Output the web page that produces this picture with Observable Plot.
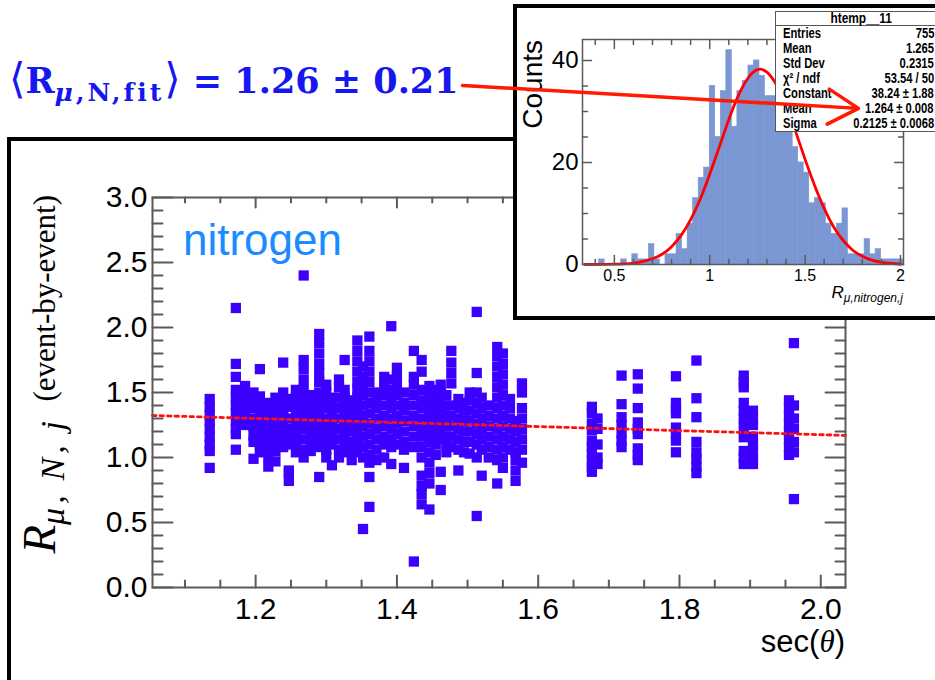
<!DOCTYPE html>
<html><head><meta charset="utf-8">
<script src="https://cdn.jsdelivr.net/npm/d3@7"></script>
<script src="https://cdn.jsdelivr.net/npm/@observablehq/plot@0.6"></script>
<style>
html,body{margin:0;padding:0;background:#fff;overflow:hidden;}
#page{position:relative;width:935px;height:680px;overflow:hidden;font-family:"Liberation Sans",Arial,sans-serif;background:#fff;}
.abs{position:absolute;white-space:nowrap;}
#stat{font-family:"Liberation Sans",Arial,sans-serif;font-weight:bold;font-size:14px;color:#000;}
#stat .row{position:relative;height:15px;line-height:15px;}
#stat .row .l{position:absolute;left:7px;transform:scaleX(0.8);transform-origin:0 50%;}
#stat .row .v{position:absolute;right:12px;transform:scaleX(0.8);transform-origin:100% 50%;}
#stat .head{height:13px;line-height:13px;text-align:center;border-bottom:1.5px solid #555;}
#stat .head span{display:inline-block;transform:scaleX(0.85);}
</style></head>
<body><div id="page"></div>
<script>
// ---------------- data: main scatter (sec(theta) columns and R values) ----------------
const colSec = [1.135,1.172,1.185,1.197,1.206,1.218,1.228,1.239,1.247,1.257,
  1.268,1.278,1.290,1.300,1.308,1.318,1.326,1.336,1.344,1.352,
  1.361,1.371,1.382,1.392,1.400,1.410,1.424,1.435,1.446,1.455,
  1.462,1.470,1.477,1.487,1.495,1.503,1.513,1.520,1.530,1.542,
  1.550,1.560,1.568,1.577,
  1.676,1.684,1.718,1.741,1.795,1.824,1.891,1.904,1.955,1.962];
const colRatio = [
  [1.45,1.39,1.33,1.28,1.22,1.16,1.10,1.05,0.92],
  [2.15,1.72,1.62,1.52,1.46,1.40,1.34,1.28,1.22,1.18,1.06],
  [1.55,1.49,1.43,1.37,1.31,1.25],
  [1.50,1.44,1.38,1.30,1.24,1.17,1.12,0.99],
  [1.68,1.47,1.41,1.35,1.29,1.22,1.15,1.10,1.04],
  [1.42,1.36,1.30,1.24,1.18,1.12,1.06,1.00,0.93],
  [1.46,1.40,1.34,1.28,1.22,1.16,1.10,1.05,0.97],
  [1.73,1.50,1.44,1.38,1.32,1.26,1.20,1.14,1.08],
  [1.45,1.39,1.30,1.22,1.16,1.10,0.90,0.82,0.88],
  [1.52,1.46,1.40,1.34,1.28,1.22,1.16,1.10,1.04],
  [2.40,1.75,1.68,1.60,1.53,1.46,1.40,1.34,1.28,1.22,1.14,1.06,1.00],
  [1.48,1.42,1.36,1.30,1.24,1.18,1.12,1.05],
  [1.95,1.88,1.80,1.72,1.65,1.58,1.50,1.44,1.38,1.32,1.26,1.20,1.14,1.08,0.85],
  [1.56,1.50,1.44,1.38,1.30,1.24,1.18,1.12,1.06,1.00],
  [1.46,1.40,1.34,1.28,1.22,1.16,1.10,0.94],
  [1.60,1.54,1.46,1.38,1.30,1.22,1.14,1.06,1.00],
  [1.75,1.52,1.46,1.40,1.34,1.28,1.22,1.16,1.10,1.04],
  [1.44,1.38,1.32,1.26,1.20,1.12,1.05,0.98],
  [1.90,1.82,1.74,1.66,1.58,1.52,1.46,1.40,1.34,1.28,1.22,1.16,1.10,1.04],
  [1.70,1.62,1.55,1.48,1.40,1.32,1.24,1.16,1.08,1.00,0.45],
  [1.93,1.82,1.74,1.66,1.58,1.50,1.42,1.34,1.26,1.18,1.10,1.02,0.96,0.85,0.62],
  [1.50,1.44,1.38,1.30,1.22,1.14,1.06,0.98],
  [1.62,1.55,1.48,1.40,1.32,1.24,1.16,1.10,1.00],
  [2.01,1.60,1.52,1.45,1.38,1.30,1.22,1.14,1.08,0.95],
  [1.69,1.62,1.55,1.48,1.40,1.32,1.26,1.18,1.10],
  [1.50,1.42,1.36,1.28,1.20,1.12,1.06,0.92],
  [1.82,1.62,1.56,1.48,1.40,1.32,1.24,1.16,1.08,0.20],
  [1.75,1.66,1.52,1.44,1.38,1.30,1.22,1.16,1.08,1.00,0.86,0.78,0.72,0.64],
  [1.55,1.48,1.42,1.36,1.30,1.24,1.18,1.12,1.04,0.96,0.88,0.80,0.60],
  [1.52,1.46,1.40,1.34,1.28,1.22,1.16,1.10,1.02],
  [1.56,1.50,1.42,1.34,1.26,1.20,1.14,0.89,0.75],
  [1.48,1.40,1.32,1.24,1.16,1.10,1.04],
  [1.82,1.73,1.65,1.57,1.40,1.32,1.24,1.16,1.08],
  [1.45,1.38,1.30,1.22,1.14,1.06,0.90],
  [1.42,1.36,1.28,1.20,1.12,1.04],
  [1.50,1.44,1.36,1.28,1.20,1.12,1.03],
  [2.12,1.65,1.50,1.42,1.34,1.26,1.18,1.10,1.00,0.55],
  [1.46,1.38,1.30,1.22,1.14,1.06,0.86],
  [1.40,1.32,1.24,1.16,1.08,1.00],
  [1.85,1.78,1.70,1.62,1.54,1.46,1.38,1.30,1.22,1.14,1.06,0.98,0.80],
  [1.80,1.72,1.64,1.56,1.48,1.40,1.32,1.24,1.16,1.08,1.00,0.92],
  [1.45,1.38,1.30,1.22,1.14,1.06],
  [1.28,1.20,1.12,1.04,0.98,0.90,0.82],
  [1.57,1.50,1.38,1.30,1.22,1.14,1.06,0.96],
  [1.39,1.34,1.26,1.21,1.13,1.08,1.03,0.98,0.93,0.89],
  [1.30,1.22,1.10,1.00,0.95],
  [1.63,1.41,1.31,1.25,1.19,1.13,1.08],
  [1.64,1.53,1.38,1.27,1.22,1.18,1.07,1.02,0.98],
  [1.625,1.42,1.38,1.34,1.23,1.18,1.13,1.04],
  [1.746,1.456,1.31,1.12,1.04,0.99,0.93,0.88],
  [1.63,1.58,1.54,1.42,1.36,1.30,1.23,1.156,1.05,1.00,0.95],
  [1.36,1.30,1.25,1.16,1.10,1.04,0.98,0.95],
  [1.44,1.38,1.32,1.26,1.20,1.14,1.08,1.02],
  [1.88,1.40,1.30,1.22,1.12,1.04,0.68]
];
// linear fit (dotted red line), end points
const fitSec = [1.054, 2.035];
const fitRatio = [1.323, 1.170];
// main axes
const mainXDomain = [1.054, 2.035];
const mainYDomain = [0, 3.0];
const mainXTicks = [1.2, 1.4, 1.6, 1.8, 2.0];
const mainXTickLabels = ["1.2", "1.4", "1.6", "1.8", "2.0"];
const mainYTicks = [0, 0.5, 1.0, 1.5, 2.0, 2.5, 3.0];
const mainYTickLabels = ["0.0", "0.5", "1.0", "1.5", "2.0", "2.5", "3.0"];

// ---------------- data: inset histogram ----------------
const histStart = 0.333;
const histBinWidth = 0.029;
const histCounts = [0,0,0,1,0,0,0,1,0,2,1,1,4,1,0,2,2,6,3,8,13,17,19,
  35,25,34,42,27,34,36,39,40,37,33,33,31,29,26,23,20,18,12,13,12,8,6,8,11,2,2,2,5,2,3,1,1,1,1];
const gaussX = [0.345,0.45,0.5,0.55,0.6,0.65,0.7,0.75,0.8,0.85,0.9,0.95,1.0,1.05,1.1,1.15,1.2,1.25,1.3,1.35,1.4,1.45,1.5,1.55,1.6,1.65,1.7,1.75,1.8,1.85,1.9,1.95,2.0];
const gaussY = [0,0.03,0.06,0.14,0.29,0.6,1.13,2.0,3.5,5.7,8.8,12.8,17.7,23.0,28.4,33.1,36.5,38.2,37.7,35.2,31.2,26.1,20.6,15.5,11.0,7.35,4.7,2.8,1.6,0.85,0.44,0.2,0.1];
const histXDomain = [0.333, 2.016];
const histYDomain = [0, 44.1];
const histXTicks = [0.5, 1, 1.5, 2];
const histXTickLabels = ["0.5", "1", "1.5", "2"];
const histYTicks = [0, 20, 40];
const histYTickLabels = ["0", "20", "40"];
const statTitle = "htemp__11";
const statLabels = ["Entries", "Mean", "Std Dev", "χ² / ndf", "Constant", "Mean", "Sigma"];
const statValues = ["755", "1.265", "0.2315", "53.54 / 50", "38.24 ± 1.88", "1.264 ± 0.008", "0.2125 ± 0.0068"];
// arrow from the headline value to the fitted Mean row (in histogram units)
const arrowFrom = [-0.296, 35.1];
const arrowTo = [1.780, 30.6];

// ---------------- helpers ----------------
const page = document.getElementById("page");
function put(el, left, top) {
  el.style.position = "absolute"; el.style.left = left + "px"; el.style.top = top + "px";
  page.appendChild(el); return el;
}
function html(s, left, top, css) {
  const d = document.createElement("div");
  d.className = "abs"; d.innerHTML = s; d.style.cssText += css || "";
  return put(d, left, top);
}
const tickShape = {draw(context, l) { context.moveTo(0, 0); context.lineTo(0, -l); }};
function ticks(values, channel, anchor, length, stroke, sw) {
  const rot = {left: 90, right: -90, bottom: 0, top: 180}[anchor];
  return Plot.vector(values, {[channel]: d => d, frameAnchor: anchor, rotate: rot, length,
    anchor: "start", shape: tickShape, stroke, strokeWidth: sw});
}
const isMult = (v, step) => Math.abs(v / step - Math.round(v / step)) < 1e-6;

// ---------------- main frame ----------------
const frame = document.createElement("div");
frame.style.cssText = "width:1000px;height:1000px;border:4px solid #000;box-sizing:border-box;";
put(frame, 7, 137);

// ---------------- main scatter ----------------
const points = colSec.flatMap((x, i) => colRatio[i].map(y => ({x, y})));
const fitLine = fitSec.map((x, i) => ({x, y: fitRatio[i]}));
const yMinor = d3.range(0, 3.0001, 0.1).filter(v => !isMult(v, 0.5));
const xMinor = d3.range(1.1, 2.03, 0.05).filter(v => !isMult(v, 0.2));
const axisGray = "#5a5a5a";
const main = Plot.plot({
  width: 924, height: 539,
  marginLeft: 141, marginRight: 90, marginTop: 56, marginBottom: 93,
  x: {domain: mainXDomain}, y: {domain: mainYDomain},
  style: {background: "transparent", fontFamily: "'Liberation Sans', Arial, sans-serif", overflow: "visible"},
  marks: [
    Plot.dot(points, {x: "x", y: "y", symbol: "square", r: 5.8, fill: "#3c00ff", stroke: "none"}),
    Plot.line(fitLine, {x: "x", y: "y", stroke: "#ff1010", strokeWidth: 2.8, strokeDasharray: "3.5,4"}),
    Plot.frame({stroke: axisGray, strokeWidth: 2}),
    ticks(mainYTicks, "y", "left", 20, axisGray, 2),
    ticks(yMinor, "y", "left", 10, axisGray, 2),
    ticks(mainYTicks, "y", "right", 20, axisGray, 2),
    ticks(yMinor, "y", "right", 10, axisGray, 2),
    ticks(mainXTicks, "x", "bottom", 12, axisGray, 2),
    ticks(xMinor, "x", "bottom", 7, axisGray, 2),
    ticks(mainXTicks, "x", "top", 10, axisGray, 2),
    ticks(xMinor, "x", "top", 5, axisGray, 2),
    Plot.axisY(mainYTicks, {anchor: "left", tickSize: 0, tickPadding: 5, fontSize: 30, label: null,
      tickFormat: d => mainYTickLabels[mainYTicks.indexOf(d)]}),
    Plot.axisX(mainXTicks, {anchor: "bottom", tickSize: 0, tickPadding: 10, fontSize: 30, label: null,
      tickFormat: d => mainXTickLabels[mainXTicks.indexOf(d)]})
  ]
});
put(main, 11, 141);

// axis titles and label
html('<span style="font-size:44px;color:#1a8cff">nitrogen</span>', 183, 218, "line-height:44px;");
html('sec(<i style="font-family:\'Liberation Serif\'">θ</i>)', 600, 626,
  "width:245px;text-align:right;font-size:31px;line-height:32px;color:#000;");
html(
  '<span style="font-size:47px;font-style:italic;line-height:1">R</span>' +
  '<span style="font-size:34px;font-style:italic;line-height:1;position:relative;top:9px;letter-spacing:4px">μ,&thinsp;N,&thinsp;j</span>' +
  '<span style="font-size:31px;line-height:1">&nbsp;&nbsp;(event-by-event)</span>',
  10, 592, "width:397px;text-align:right;font-family:'Liberation Serif',serif;font-size:47px;line-height:58px;transform:rotate(-90deg);transform-origin:0 0;color:#000;");

// title
html('<span style="font-family:\'DejaVu Sans\';font-weight:normal;font-size:42px">⟨</span>R' +
  '<sub style="font-size:25px;letter-spacing:3px;vertical-align:-8px"><i>μ</i>,N,fit</sub>' +
  '<span style="font-family:\'DejaVu Sans\';font-weight:normal;font-size:42px">⟩</span> = 1.26 ± 0.21',
  9, 58, "font-family:'DejaVu Serif',serif;font-weight:bold;font-size:35px;line-height:42px;color:#1616f0;");

// ---------------- inset histogram ----------------
const inset = document.createElement("div");
inset.style.cssText = "width:438px;height:316px;border:4px solid #000;box-sizing:border-box;background:#fff;";
put(inset, 513, 4);

const bins = histCounts.map((c, i) => ({x1: histStart + i * histBinWidth, x2: histStart + (i + 1) * histBinWidth, c}));
const gauss = gaussX.map((x, i) => ({x, y: gaussY[i]}));
const hxMinor = d3.range(0.4, 2.01, 0.1).filter(v => !isMult(v, 0.5));
const hyMinor = d3.range(5, 44, 5).filter(v => !isMult(v, 20));
const hGray = "#5a5a5a";
const histOpts = {
  width: 426, height: 308, marginLeft: 65, marginRight: 40, marginTop: 31, marginBottom: 52,
  x: {domain: histXDomain}, y: {domain: histYDomain}
};
const hist = Plot.plot({
  ...histOpts,
  style: {background: "transparent", fontFamily: "'Liberation Sans', Arial, sans-serif", overflow: "visible"},
  marks: [
    Plot.rect(bins, {x1: "x1", x2: "x2", y1: 0, y2: "c", fill: "#7a97d3", stroke: "#7a97d3", strokeWidth: 0.6}),
    Plot.line(gauss, {x: "x", y: "y", stroke: "#ff0000", strokeWidth: 2.8, curve: "natural"}),
    Plot.frame({stroke: hGray, strokeWidth: 1.5}),
    ticks(histYTicks, "y", "left", 9, hGray, 1.5),
    ticks(hyMinor, "y", "left", 5, hGray, 1.5),
    ticks(histYTicks, "y", "right", 9, hGray, 1.5),
    ticks(hyMinor, "y", "right", 5, hGray, 1.5),
    ticks(histXTicks, "x", "bottom", 9, hGray, 1.5),
    ticks(hxMinor, "x", "bottom", 5, hGray, 1.5),
    ticks(histXTicks, "x", "top", 9, hGray, 1.5),
    ticks(hxMinor, "x", "top", 5, hGray, 1.5),
    Plot.axisY(histYTicks, {anchor: "left", tickSize: 0, tickPadding: 4, fontSize: 24, label: null,
      tickFormat: d => histYTickLabels[histYTicks.indexOf(d)]}),
    Plot.axisX(histXTicks, {anchor: "bottom", tickSize: 0, tickPadding: 5, fontSize: 16, label: null,
      tickFormat: d => histXTickLabels[histXTicks.indexOf(d)]})
  ]
});
put(hist, 517, 8);

html('Counts', 519, 264, "width:224px;text-align:right;font-size:28px;line-height:28px;transform:rotate(-90deg);transform-origin:0 0;color:#000;");
html('<i style="font-size:17px">R</i><i style="font-size:12px;position:relative;top:4px">μ,nitrogen,j</i>',
  700, 283, "width:203px;text-align:right;line-height:20px;color:#000;");

// stat box
const stat = document.createElement("div");
stat.id = "stat";
stat.style.cssText = "width:172px;height:121px;border:1.5px solid #555;background:#fff;box-sizing:border-box;";
stat.innerHTML = `<div class="head"><span>${statTitle}</span></div>` +
  statLabels.map((l, i) => `<div class="row"><span class="l">${l}</span><span class="v">${statValues[i]}</span></div>`).join("");
put(stat, 775, 11);

// arrow overlay (same geometry as the histogram)
const arrowPlot = Plot.plot({
  ...histOpts,
  x: {domain: histXDomain, axis: null}, y: {domain: histYDomain, axis: null},
  style: {background: "transparent", overflow: "visible"},
  marks: [
    Plot.arrow([{x1: arrowFrom[0], y1: arrowFrom[1], x2: arrowTo[0], y2: arrowTo[1]}],
      {x1: "x1", y1: "y1", x2: "x2", y2: "y2", stroke: "#ff1a00", strokeWidth: 3.5, headLength: 15, headAngle: 60})
  ]
});
arrowPlot.style.pointerEvents = "none";
put(arrowPlot, 517, 8);
</script></body></html>
